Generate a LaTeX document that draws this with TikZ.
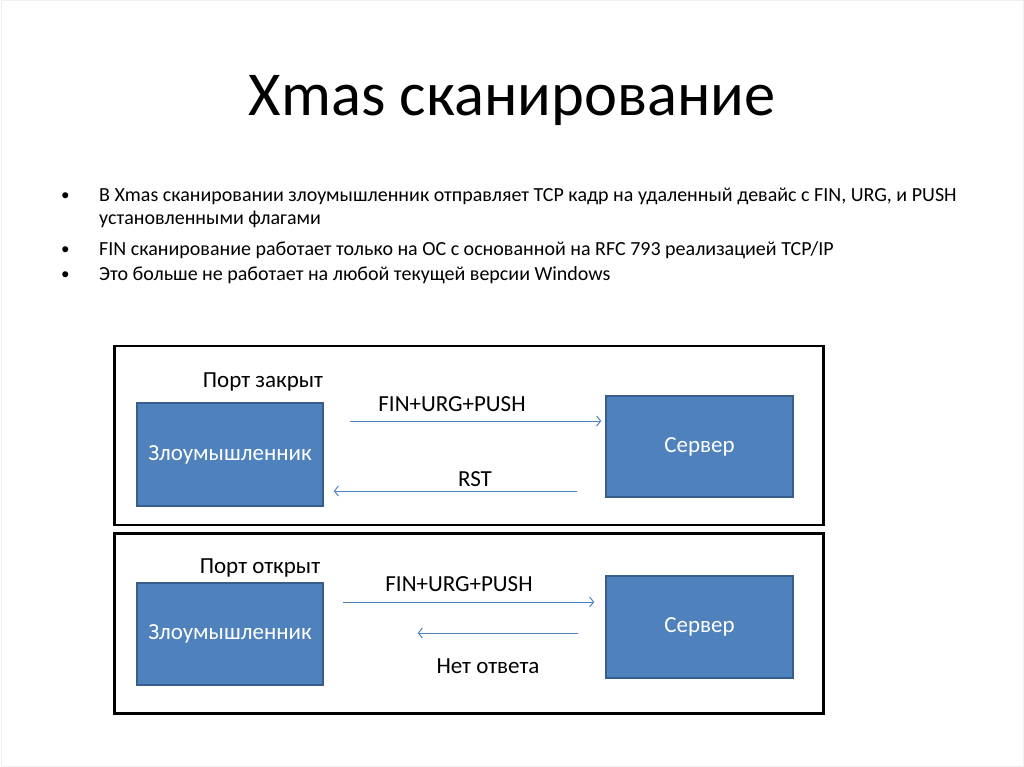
\documentclass[tikz,border=0pt]{standalone}
\usepackage{fontspec}
\setmainfont{Carlito}
\usetikzlibrary{arrows.meta}
\definecolor{boxfill}{HTML}{4F81BD}
\definecolor{boxline}{HTML}{385D8A}
\begin{document}
\begin{tikzpicture}[x=1pt,y=-1pt,
  box/.style={draw=boxline, fill=boxfill, line width=1.5pt, text=white,
    font=\fontsize{23}{27}\selectfont, inner sep=0pt},
  frame/.style={draw=black, line width=2.2pt},
  arr/.style={draw=boxfill, line width=1pt, -{Straight Barb[length=4pt,width=10pt]}},
  lbl/.style={font=\fontsize{23}{27}\selectfont, inner sep=0pt},
  bul/.style={font=\fontsize{20}{24}\selectfont, inner sep=0pt, anchor=base west},
  dot/.style={font=\fontsize{17}{20}\selectfont, inner sep=0pt, anchor=base west}]
\useasboundingbox (0,0) rectangle (1024,767);
\draw[gray!12, line width=1pt] (1,1) rectangle (1023,766);
% title
\node[font=\fontsize{62.5}{75}\selectfont, inner sep=0pt, anchor=base] (title) at (512,116) {Xmas сканирование};
% bullets
\node[dot] (b1dot) at (61,201) {•};
\node[bul] (b1a) at (99,202) {В Xmas сканировании злоумышленник отправляет TCP кадр на удаленный девайс с FIN, URG, и PUSH};
\node[bul] (b1b) at (99,225) {установленными флагами};
\node[dot] (b2dot) at (61,254) {•};
\node[bul] (b2) at (99,255) {FIN сканирование работает только на ОС с основанной на RFC 793 реализацией TCP/IP};
\node[dot] (b3dot) at (61,279) {•};
\node[bul] (b3) at (99,280) {Это больше не работает на любой текущей версии Windows};
% frames
\node[frame, minimum width=709pt, minimum height=179pt, inner sep=0pt] (f1) at (469,435.5) {};
\node[frame, minimum width=709pt, minimum height=180pt, inner sep=0pt] (f2) at (469,623.5) {};
% panel 1
\node[box, minimum width=186pt, minimum height=103pt] (a1) at (230,454.5) {\raisebox{-2pt}{Злоумышленник}};
\node[box, minimum width=187pt, minimum height=101pt] (s1) at (699.5,446.5) {\raisebox{-2pt}{Сервер}};
\node[lbl] (p1) at (263,382) {Порт закрыт};
\draw[arr, shorten <=26pt, shorten >=4pt] (a1.east |- 0,421) -- (s1.west |- 0,421);
\node[lbl] (l1) at (452,404) {FIN+URG+PUSH};
\draw[arr, shorten <=28pt, shorten >=10pt] (s1.west |- 0,491) -- (a1.east |- 0,491);
\node[lbl] (l2) at (475,479) {RST};
% panel 2
\node[box, minimum width=186pt, minimum height=102pt] (a2) at (230,634) {\raisebox{-2pt}{Злоумышленник}};
\node[box, minimum width=187pt, minimum height=102pt] (s2) at (699.5,627) {\raisebox{-2pt}{Сервер}};
\node[lbl] (p2) at (260,568) {Порт открыт};
\draw[arr, shorten <=19pt, shorten >=11pt] (a2.east |- 0,602) -- (s2.west |- 0,602);
\node[lbl] (l3) at (459,584) {FIN+URG+PUSH};
\draw[arr, shorten <=27pt, shorten >=94pt] (s2.west |- 0,633) -- (a2.east |- 0,633);
\node[lbl] (l4) at (488,666) {Нет ответа};
\end{tikzpicture}
\end{document}
